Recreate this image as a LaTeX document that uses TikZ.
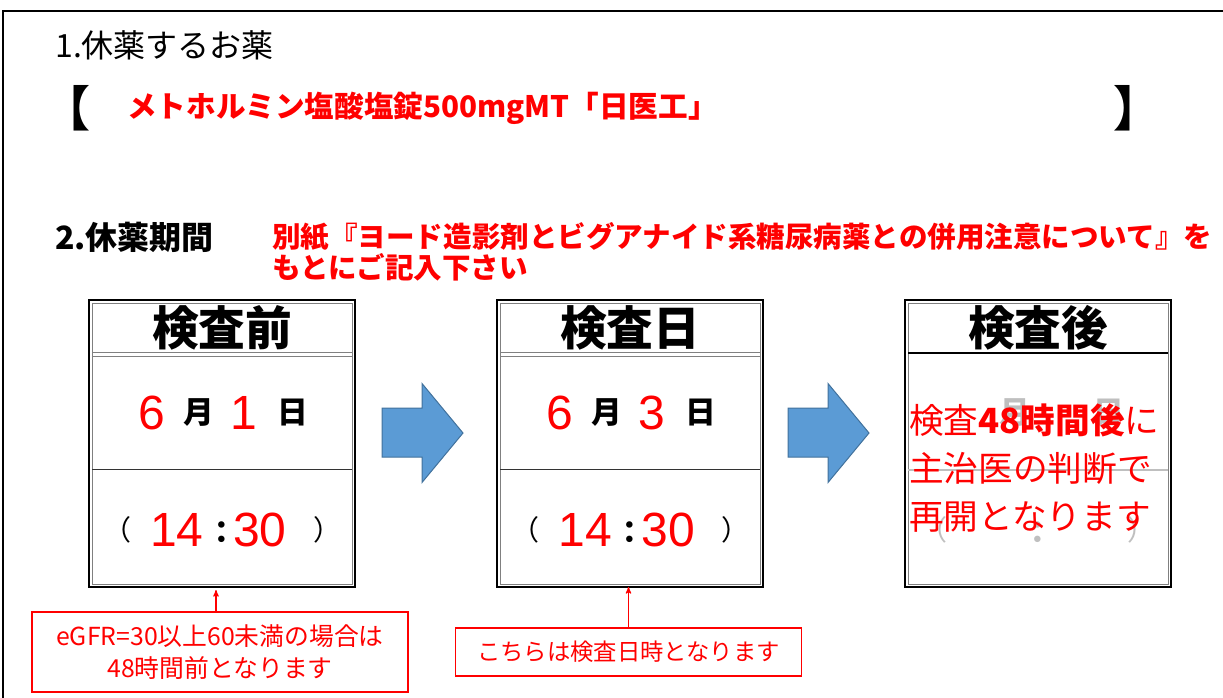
\documentclass[tikz,border=0pt]{standalone}
\usepackage{fontspec}
\setmainfont{Noto Sans CJK JP}
\newfontfamily\arialfont{Liberation Sans}
\usetikzlibrary{arrows,positioning,calc}

\definecolor{akairo}{RGB}{255,0,0}
\definecolor{aoiro}{RGB}{91,155,213}
\definecolor{aowaku}{RGB}{65,113,156}
\definecolor{usuhai}{RGB}{191,191,191}
\newcommand{\moji}[1]{\fontsize{#1}{#1}\selectfont}

\begin{document}
\begin{tikzpicture}[x=0.75pt,y=-0.75pt,>=stealth',
    waku/.style={draw=black,line width=1.1pt,minimum width=199.5pt,minimum height=215.25pt,inner sep=0pt,outer sep=0pt},
    midashi/.style={font=\bfseries\moji{35},inner sep=0pt},
    hizuke/.style={font=\arialfont\moji{36},text=akairo,inner sep=0pt},
    tani/.style={font=\bfseries\moji{23},inner sep=0pt},
    kakko/.style={font=\moji{21},inner sep=0pt},
    fukidashi/.style={draw=akairo,line width=0.9pt,text=akairo,align=center,inner sep=0pt},
    yajirushi/.style={fill=aoiro,draw=aowaku,line width=0.75pt}]

    \useasboundingbox (0,0) rectangle (1223,697);
    % frame
    \draw[line width=1.6pt] (3,705) -- (3,11) -- (1230,11);

    % headings
    \node[anchor=west,inner sep=0pt,font=\moji{24}] (kusuri) at (55,45) {1.休薬するお薬};
    \node[anchor=west,inner sep=0pt,font=\bfseries\moji{36}] (kakkol) at (42,108) {【};
    \node[anchor=west,inner sep=0pt,font=\bfseries\moji{22.2},text=akairo] (meisho) at (127,108) {メトホルミン塩酸塩錠500mgMT「日医工」};
    \node[anchor=east,inner sep=0pt,font=\bfseries\moji{36}] (kakkor) at (1162,108) {】};
    \node[anchor=west,inner sep=0pt,font=\bfseries\moji{24}] (kikan) at (55,237) {2.休薬期間};
    \node[anchor=west,inner sep=0pt,align=left,font=\bfseries\moji{21.4},text=akairo] (chui) at (272,252)
        {別紙『ヨード造影剤とビグアナイド系糖尿病薬との併用注意について』を\\[0.8pt]もとにご記入下さい};

    % boxes
    \node[waku] (mae) at (222,443.5) {};
    \node[waku] (toujitsu) at (630,443.5) {};
    \node[waku] (ato) at (1038,443.5) {};

    \draw[gray] ([shift={(3,3)}]mae.north west) rectangle ([shift={(-3,-3)}]mae.south east);
    \draw[gray] ([shift={(3,52)}]mae.north west) -- ([shift={(-3,52)}]mae.north east);
    \draw[gray] ([shift={(3,56)}]mae.north west) -- ([shift={(-3,56)}]mae.north east);
    \draw[black!80,line width=0.6pt] ([shift={(3,169)}]mae.north west) -- ([shift={(-3,169)}]mae.north east);

    \draw[gray] ([shift={(3,3)}]toujitsu.north west) rectangle ([shift={(-3,-3)}]toujitsu.south east);
    \draw[gray] ([shift={(3,52)}]toujitsu.north west) -- ([shift={(-3,52)}]toujitsu.north east);
    \draw[gray] ([shift={(3,56)}]toujitsu.north west) -- ([shift={(-3,56)}]toujitsu.north east);
    \draw[black!80,line width=0.6pt] ([shift={(3,169)}]toujitsu.north west) -- ([shift={(-3,169)}]toujitsu.north east);

    \draw[gray] ([shift={(3,3)}]ato.north west) rectangle ([shift={(-3,-3)}]ato.south east);
    \draw[line width=2.2pt] ([shift={(3,53)}]ato.north west) -- ([shift={(-3,53)}]ato.north east);
    \draw[usuhai,line width=0.8pt] ([shift={(3,170)}]ato.north west) -- ([shift={(-3,170)}]ato.north east);

    % before
    \node[midashi] (maettl) at (222,328) {検査前};
    \node[hizuke] (maetsuki) at (152,413) {6};
    \node[tani] at (199,413) {月};
    \node[hizuke] (maehi) at (244,413) {1};
    \node[tani] at (293,413) {日};
    \node[kakko] at (117,530) {（};
    \node[hizuke] (maeji) at (177,530) {14};
    \node[tani] at (222,533) {：};
    \node[hizuke] (maefun) at (260,530) {30};
    \node[kakko] at (327,530) {）};

    % day of exam
    \node[midashi] (toujitsuttl) at (630,328) {検査日};
    \node[hizuke] (toujitsutsuki) at (560,413) {6};
    \node[tani] at (607,413) {月};
    \node[hizuke] (toujitsuhi) at (652,413) {3};
    \node[tani] at (701,413) {日};
    \node[kakko] at (525,530) {（};
    \node[hizuke] (toujitsuji) at (585,530) {14};
    \node[tani] at (630,533) {：};
    \node[hizuke] (toujitsufun) at (668,530) {30};
    \node[kakko] at (735,530) {）};

    % after
    \node[midashi] (atottl) at (1038,328) {検査後};
    \node[tani,text=usuhai] at (1015,413) {月};
    \node[tani,text=usuhai] at (1109,413) {日};
    \node[kakko,text=usuhai] at (933,530) {（};
    \node[tani,text=usuhai] at (1038,533) {：};
    \node[kakko,text=usuhai] at (1141,530) {）};
    \node[anchor=west,inner sep=0pt,align=left,text=akairo,font=\moji{26}] (saikai) at (909,468)
        {検査\textbf{48時間後}に\\[10pt]主治医の判断で\\[10pt]再開となります};

    % arrows
    \draw[yajirushi] (382,408) -- (422,408) -- (422,383.5) -- (463,433) -- (422,482.5) -- (422,457) -- (382,457) -- cycle;
    \draw[yajirushi] (788,408) -- (828,408) -- (828,383.5) -- (869,433) -- (828,482.5) -- (828,457) -- (788,457) -- cycle;

    % notes
    \node[fukidashi,font=\moji{18.6},minimum width=282pt,minimum height=60pt] (chuui1) at (220,652)
        {eGFR=30以上60未満の場合は\\[5pt]48時間前となります};
    \node[fukidashi,font=\moji{17.5},minimum width=260pt,minimum height=36pt] (chuui2) at (628.5,652) {こちらは検査日時となります};

    \draw[->,akairo,line width=0.8pt] (chuui1.north -| 216,0) -- (216,590);
    \draw[->,akairo,line width=0.8pt] (chuui2.north) -- (chuui2.north |- toujitsu.south);
\end{tikzpicture}
\end{document}
